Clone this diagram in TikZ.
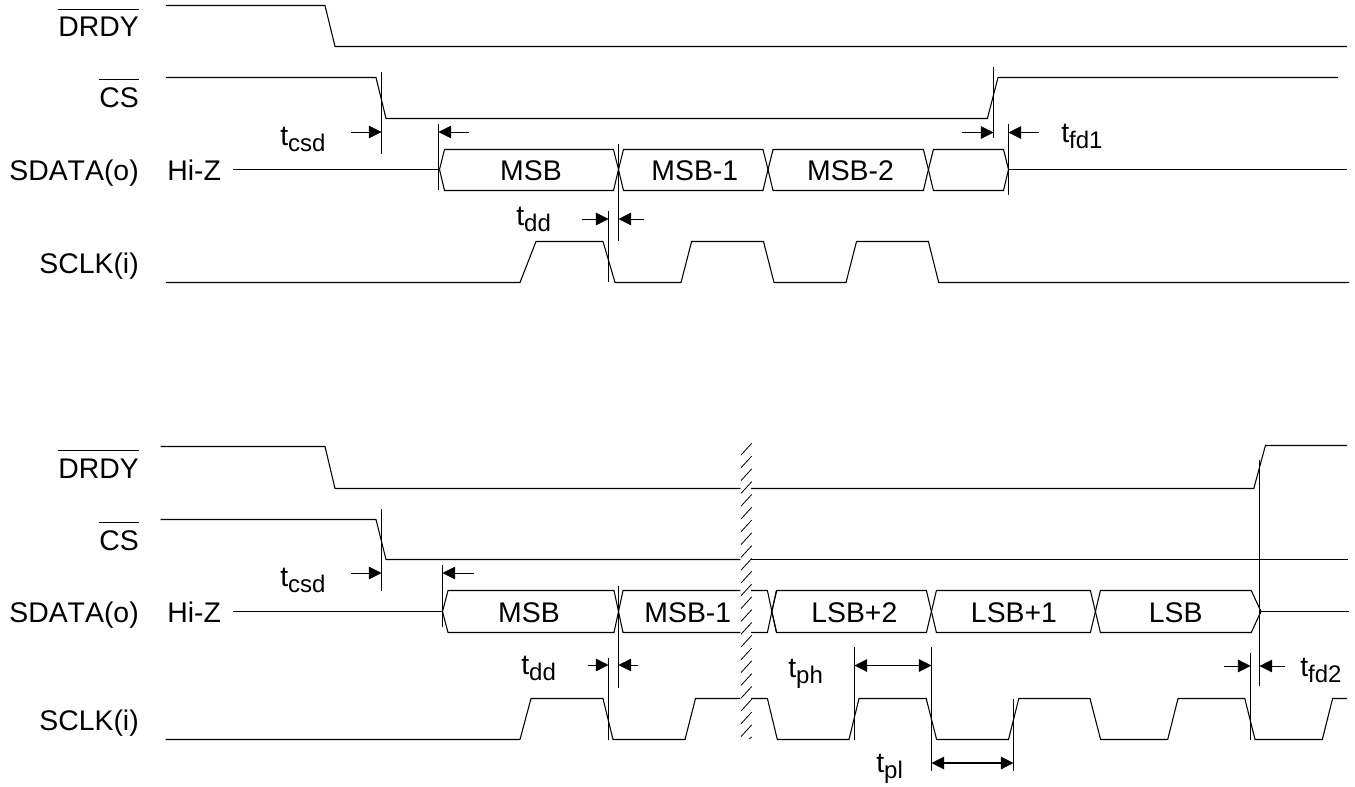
\documentclass[tikz,border=0pt]{standalone}
\usepackage{fontspec}
\setmainfont[Kerning=Off]{Liberation Sans}
\usetikzlibrary{arrows.meta}
\newcommand{\tsub}[1]{t\raisebox{-4.5pt}{\fontsize{18}{18}\selectfont #1}}
\newcommand{\nbar}[1]{\vbox{\hrule height 0.6pt\kern5.4pt\hbox{#1}}}
\tikzset{
  sigline/.style={line width=0.8pt,line join=miter},
  edgemark/.style={line width=0.6pt},
  gaparrow/.style={-{Triangle[length=9.5pt,width=9.5pt]},line width=0.6pt},
  spanarrow/.style={{Triangle[length=9.5pt,width=9.5pt]}-{Triangle[length=9.5pt,width=9.5pt]},line width=0.8pt},
  signame/.style={anchor=base east,inner sep=0pt},
  tlab/.style={anchor=base west,inner sep=0pt},
  bitlab/.style={anchor=base,inner sep=0pt}
}
\begin{document}
\begin{tikzpicture}[x=0.75pt,y=-0.75pt,font=\fontsize{21.3}{24}\selectfont]
\useasboundingbox (0,0) rectangle (1355,786);
%top group
\node[signame] (drdya) at (139,36.7) {\nbar{DRDY}};
\node[signame] (csa) at (139,107) {\nbar{CS}};
\node[signame] (sdataa) at (139,180.7) {SDATA(o)};
\node[signame] (sclka) at (139,273) {SCLK(i)};
\node[tlab] (hiza) at (167,180.7) {Hi-Z};
\draw[sigline] (166,5.5) -- (325,5.5) -- (335,46.5) -- (1347,46.5);
\draw[sigline] (166,77.5) -- (376,77.5) -- (386,118.5) -- (987.4,118.5) -- (998,77.5) -- (1337.8,77.5);
\draw[sigline] (233,169.5) -- (439.5,169.5);
\draw[sigline] (1008.5,169.5) -- (1347,169.5);
\foreach \xa/\xb in {439.5/618.5,618.5/768,768/928.4,928.4/1008.5}
  \draw[sigline] (\xa,169.5) -- (\xa+5,149.5) -- (\xb-5,149.5) -- (\xb,169.5) -- (\xb-5,190.5) -- (\xa+5,190.5) -- cycle;
\draw[sigline] (166,282.5) -- (520,282.5) -- (536,241.5) -- (603,241.5) -- (615,282.5) -- (681,282.5) -- (691.6,241.5) -- (763.5,241.5) -- (774,282.5)
  -- (846,282.5) -- (856.5,241.5) -- (928.4,241.5) -- (938.7,282.5) -- (1349,282.5);
\node[bitlab] (msba) at (531,180.7) {MSB};
\node[bitlab] (msbb) at (694.8,180.7) {MSB-1};
\node[bitlab] (msbc) at (850.5,180.7) {MSB-2};
\draw[edgemark] (381.5,72) -- (381.5,154);
\draw[edgemark] (438.5,124) -- (438.5,190);
\draw[edgemark] (618.5,144) -- (618.5,241);
\draw[edgemark] (608.5,211) -- (608.5,282);
\draw[edgemark] (993.5,67) -- (993.5,138);
\draw[edgemark] (1008.5,124) -- (1008.5,195);
\draw[gaparrow] (351,132) -- (381.5,132);
\draw[gaparrow] (469,132) -- (438.5,132);
\draw[gaparrow] (582,219) -- (608.5,219);
\draw[gaparrow] (643.5,219) -- (618.5,219);
\draw[gaparrow] (962,132.5) -- (993.5,132.5);
\draw[gaparrow] (1038.6,132.5) -- (1008.5,132.5);
\node[tlab] (tcsda) at (280,145) {\tsub{csd}};
\node[tlab] (tdda) at (516,225) {\tsub{dd}};
\node[tlab] (tfda) at (1061,142.7) {\tsub{fd1}};
%bottom group
\node[signame] (drdyb) at (139,478) {\nbar{DRDY}};
\node[signame] (csb) at (139,550) {\nbar{CS}};
\node[signame] (sdatab) at (139,622) {SDATA(o)};
\node[signame] (sclkb) at (139,730) {SCLK(i)};
\node[tlab] (hizb) at (167,622) {Hi-Z};
\draw[sigline] (160.5,446.5) -- (325,446.5) -- (335,488.5) -- (740.3,488.5);
\draw[sigline] (751,488.5) -- (1253.8,488.5) -- (1265.4,445.5) -- (1347,445.5);
\draw[sigline] (160.5,519.5) -- (376,519.5) -- (386,559.5) -- (740.3,559.5);
\draw[sigline] (751,559.5) -- (1348,559.5);
\draw[sigline] (233,611.5) -- (442.5,611.5);
\draw[sigline] (1261,611.5) -- (1349,611.5);
\draw[sigline] (442.5,611.5) -- (448,590.5) -- (614,590.5) -- (623,632.5) -- (740.3,632.5);
\draw[sigline] (442.5,611.5) -- (448,632.5) -- (614,632.5) -- (623,590.5) -- (740.3,590.5);
\draw[sigline] (751,590.5) -- (767.4,590.5) -- (776.4,632.5);
\draw[sigline] (751,632.5) -- (767.4,632.5) -- (776.4,590.5);
\foreach \xa/\xb in {771.7/931.4,931.4/1095.4}
  \draw[sigline] (\xa,611.5) -- (\xa+5,590.5) -- (\xb-5,590.5) -- (\xb,611.5) -- (\xb-5,632.5) -- (\xa+5,632.5) -- cycle;
\draw[sigline] (1095.4,611.5) -- (1100.4,590.5) -- (1251.2,590.5) -- (1261,611.5) -- (1251.2,632.5) -- (1100.4,632.5) -- cycle;
\draw[sigline] (165.6,739.5) -- (520,739.5) -- (531,698.5) -- (603,698.5) -- (613,739.5) -- (685,739.5) -- (695.5,698.5) -- (740.3,698.5);
\draw[sigline] (751,698.5) -- (767.4,698.5) -- (777.3,739.5) -- (849,739.5) -- (859,698.5) -- (926.2,698.5) -- (936.6,739.5)
  -- (1008.5,739.5) -- (1018.8,698.5) -- (1090,698.5) -- (1100.6,739.5) -- (1167.7,739.5) -- (1178,698.5) -- (1244.8,698.5)
  -- (1255,739.5) -- (1322.3,739.5) -- (1332.6,698.5) -- (1347,698.5);
\foreach \k in {0,...,22}
  \draw[edgemark] (741,455+12.8*\k) -- (751.7,443.3+12.8*\k);
\draw[edgemark] (749,739) -- (751.7,737);
\node[bitlab] (msbd) at (529,622) {MSB};
\node[bitlab] (msbe) at (687.8,622) {MSB-1};
\node[bitlab] (lsbc) at (854.3,622) {LSB+2};
\node[bitlab] (lsbb) at (1014,622) {LSB+1};
\node[bitlab] (lsba) at (1175.7,622) {LSB};
\draw[edgemark] (381.5,509) -- (381.5,590.7);
\draw[edgemark] (442.5,565) -- (442.5,626.7);
\draw[edgemark] (618.5,585.7) -- (618.5,688);
\draw[edgemark] (608.5,658) -- (608.5,740);
\draw[edgemark] (854.5,647) -- (854.5,739.5);
\draw[edgemark] (931.5,647) -- (931.5,770.5);
\draw[edgemark] (1013.5,699) -- (1013.5,770.5);
\draw[edgemark] (1250.5,652.7) -- (1250.5,740);
\draw[edgemark] (1259.5,460) -- (1259.5,686);
\draw[gaparrow] (351,573) -- (381.5,573);
\draw[gaparrow] (474,573) -- (442.5,573);
\draw[gaparrow] (587.6,665) -- (608.5,665);
\draw[gaparrow] (638,665) -- (618.5,665);
\draw[spanarrow] (854.5,665.5) -- (931.5,665.5);
\draw[spanarrow] (931.5,763) -- (1013.5,763);
\draw[gaparrow] (1224,666) -- (1250.5,666);
\draw[gaparrow] (1284.8,666) -- (1259.5,666);
\node[tlab] (tcsdb) at (280,586.7) {\tsub{csd}};
\node[tlab] (tddb) at (521,674) {\tsub{dd}};
\node[tlab] (tph) at (788,677) {\tsub{ph}};
\node[tlab] (tpl) at (876,772) {\tsub{pl}};
\node[tlab] (tfdb) at (1300,676.7) {\tsub{fd2}};
\end{tikzpicture}
\end{document}
